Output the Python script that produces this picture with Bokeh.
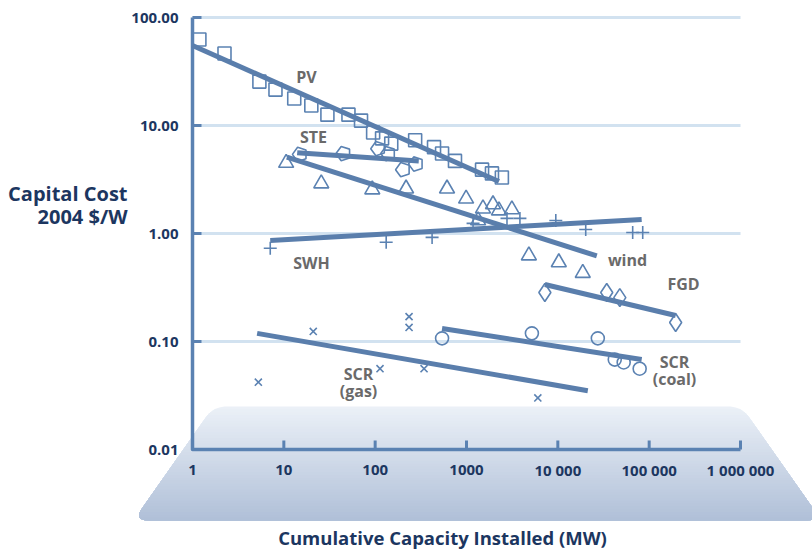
import math
from bokeh.plotting import figure
from bokeh.models import Range1d
from bokeh.core.properties import value
from bokeh.embed import file_html
from bokeh.resources import INLINE

# ---------------- data ----------------
PV_X = [1.19, 2.24, 5.4, 8.1, 13, 20, 30, 51, 70, 95, 119, 150, 274, 441, 540, 748, 1480, 1900, 2440]
PV_Y = [62.5, 46.4, 25.5, 21.5, 17.8, 15.3, 12.6, 12.6, 11.1, 8.6, 7.6, 6.8, 7.3, 6.3, 5.5, 4.7, 3.9, 3.6, 3.3]
PV_FIT_X = [1, 2265]
PV_FIT_Y = [55, 3.03]

STE_X = [15, 45, 108, 139, 202, 280]
STE_Y = [5.4, 5.5, 6.1, 5.5, 3.9, 4.4]
STE_FIT_X = [14, 300]
STE_FIT_Y = [5.6, 4.7]

WIND_X = [10.6, 25.7, 93, 218, 612, 990, 1515, 1950, 2265, 3140, 1340, 4820, 10250, 18750]
WIND_Y = [4.5, 2.9, 2.55, 2.6, 2.6, 2.1, 1.7, 1.86, 1.63, 1.67, 1.32, 0.625, 0.54, 0.43]
WIND_FIT_X = [10.8, 26700]
WIND_FIT_Y = [5.1, 0.62]

SWH_X = [7.1, 132, 420, 1180, 2775, 3845, 9500, 20200, 66000, 85000]
SWH_Y = [0.73, 0.83, 0.92, 1.24, 1.38, 1.38, 1.32, 1.09, 1.02, 1.02]
SWH_FIT_X = [7.1, 82800]
SWH_FIT_Y = [0.86, 1.35]

FGD_X = [7210, 34300, 47700, 195000]
FGD_Y = [0.284, 0.284, 0.255, 0.15]
FGD_FIT_X = [7210, 195000]
FGD_FIT_Y = [0.337, 0.174]

SCRC_X = [540, 5200, 27400, 42000, 52600, 78700]
SCRC_Y = [0.107, 0.119, 0.107, 0.068, 0.064, 0.056]
SCRC_FIT_X = [540, 82800]
SCRC_FIT_Y = [0.132, 0.068]

SCRG_X = [5.26, 21, 235, 235, 113, 343, 6040]
SCRG_Y = [0.042, 0.124, 0.170, 0.135, 0.056, 0.056, 0.030]
SCRG_FIT_X = [5.1, 21300]
SCRG_FIT_Y = [0.119, 0.035]

X_TICKS = [1, 10, 100, 1000, 10000, 100000, 1000000]
X_TICK_LABELS = ["1", "10", "100", "1000", "10 000", "100 000", "1 000 000"]
Y_TICKS = [0.01, 0.1, 1, 10, 100]
Y_TICK_LABELS = ["0.01", "0.10", "1.00", "10.00", "100.00"]
GRID_Y = [0.1, 1, 10, 100]

# ---------------- layout helpers (pixel <-> data on the log scales) ----------------
W, H = 812, 552
FL, FR, FB = 192, 740, 449          # position of x=1, x=1e6 and y=0.01 in px
XDEC = (FR - FL) / 6.0               # px per decade on x
YDEC = 108.0                         # px per decade on y


def px_to_x(px):
    return 10 ** ((px - FL) / XDEC)


def py_to_y(py):
    return 0.01 * 10 ** ((FB - py) / YDEC)


NAVY = "#1c3660"
BLUE = "#5b82b2"
LINE = "#5a7eac"
GREY = "#6a6a6a"
FONT = "Open Sans"

p = figure(width=W, height=H, x_axis_type="log", y_axis_type="log",
           x_range=Range1d(px_to_x(0), px_to_x(W)),
           y_range=Range1d(py_to_y(H), py_to_y(0)),
           x_axis_location=None, y_axis_location=None,
           min_border=0, toolbar_location=None, output_backend="svg")
p.outline_line_color = None
p.xgrid.visible = False
p.ygrid.visible = False
p.background_fill_color = "white"
p.border_fill_color = "white"


# ---------------- trapezoid background with vertical gradient ----------------
def rounded_poly(pts, radii, nseg=10):
    out = []
    n = len(pts)
    for i in range(n):
        p0, p1, p2 = pts[i - 1], pts[i], pts[(i + 1) % n]
        r = radii[i]
        v1 = (p0[0] - p1[0], p0[1] - p1[1])
        v2 = (p2[0] - p1[0], p2[1] - p1[1])
        l1, l2 = math.hypot(*v1), math.hypot(*v2)
        u1 = (v1[0] / l1, v1[1] / l1)
        u2 = (v2[0] / l2, v2[1] / l2)
        ang = math.acos(max(-1, min(1, u1[0] * u2[0] + u1[1] * u2[1])))
        d = r / math.tan(ang / 2) if r > 0 else 0
        a = (p1[0] + u1[0] * d, p1[1] + u1[1] * d)
        b = (p1[0] + u2[0] * d, p1[1] + u2[1] * d)
        for k in range(nseg + 1):
            t = k / nseg
            out.append(((1 - t) ** 2 * a[0] + 2 * (1 - t) * t * p1[0] + t ** 2 * b[0],
                        (1 - t) ** 2 * a[1] + 2 * (1 - t) * t * p1[1] + t ** 2 * b[1]))
    return out


def clip_below(poly, yc):
    out = []
    n = len(poly)
    for i in range(n):
        cur, prv = poly[i], poly[i - 1]
        cin, pin = cur[1] >= yc, prv[1] >= yc
        if cin != pin:
            t = (yc - prv[1]) / (cur[1] - prv[1])
            out.append((prv[0] + t * (cur[0] - prv[0]), yc))
        if cin:
            out.append(cur)
    return out


TOP, BOT = 406, 520
trap = rounded_poly([(213, TOP), (741, TOP), (821, BOT), (133, BOT)], [26, 26, 8, 8])
c_top = (235, 240, 247)
c_bot = (176, 192, 216)
NB = 40
for k in range(NB):
    yc = TOP + (BOT - TOP) * k / NB
    t = k / (NB - 1)
    col = "#%02x%02x%02x" % tuple(int(round(c_top[j] + (c_bot[j] - c_top[j]) * t)) for j in range(3))
    poly = clip_below(trap, yc) if k > 0 else trap
    if len(poly) < 3:
        continue
    p.patch([px_to_x(q[0]) for q in poly], [py_to_y(q[1]) for q in poly],
            fill_color=col, line_color=None)

# ---------------- grid lines ----------------
p.segment(x0=[X_TICKS[0]] * len(GRID_Y), x1=[X_TICKS[-1]] * len(GRID_Y),
          y0=GRID_Y, y1=GRID_Y, line_color="#d2e2f0", line_width=3)

# ---------------- axes (drawn through the log scales) ----------------
TICK = 9  # px
p.line([X_TICKS[0], X_TICKS[0], X_TICKS[-1]], [Y_TICKS[-1], Y_TICKS[0], Y_TICKS[0]],
       line_color=BLUE, line_width=3.5, line_join="round", line_cap="butt")
fx = 10 ** (TICK / XDEC)
fy = 10 ** (TICK / YDEC)
p.segment(x0=[X_TICKS[0]] * (len(Y_TICKS) - 1), x1=[X_TICKS[0] * fx] * (len(Y_TICKS) - 1),
          y0=Y_TICKS[1:], y1=Y_TICKS[1:], line_color=BLUE, line_width=3)
p.segment(x0=X_TICKS[1:], x1=X_TICKS[1:],
          y0=[Y_TICKS[0]] * (len(X_TICKS) - 1), y1=[Y_TICKS[0] * fy] * (len(X_TICKS) - 1),
          line_color=BLUE, line_width=3)

p.text(x=[px_to_x(178)] * len(Y_TICKS), y=Y_TICKS, text=Y_TICK_LABELS,
       text_align="right", text_baseline="middle", text_font=value(FONT),
       text_font_style="bold", text_font_size="15px", text_color=NAVY)
p.text(x=X_TICKS, y=[py_to_y(469)] * len(X_TICKS), text=X_TICK_LABELS,
       text_align="center", text_baseline="middle", text_font=value(FONT),
       text_font_style="bold", text_font_size="15px", text_color=NAVY)

# ---------------- markers ----------------
MK = dict(fill_color=None, line_color=BLUE, line_width=1.6)
p.scatter(PV_X, PV_Y, marker="square", size=13, **MK)
try:
    p.ngon(x=STE_X, y=STE_Y, radius=7.5, radius_units="screen", n=5,
           angle=math.pi / 2, **MK)
except Exception:
    p.scatter(STE_X, STE_Y, marker="hex", size=13, **MK)
p.scatter(WIND_X, WIND_Y, marker="triangle", size=15, **MK)
p.scatter(SWH_X, SWH_Y, marker="cross", size=13, **MK)
p.scatter(FGD_X, FGD_Y, marker="diamond", size=18, **MK)
p.scatter(SCRC_X, SCRC_Y, marker="circle", size=13, **MK)
p.scatter(SCRG_X, SCRG_Y, marker="x", size=10, **MK)

# ---------------- fit lines ----------------
for fxs, fys in ((PV_FIT_X, PV_FIT_Y), (STE_FIT_X, STE_FIT_Y), (WIND_FIT_X, WIND_FIT_Y),
                 (SWH_FIT_X, SWH_FIT_Y), (FGD_FIT_X, FGD_FIT_Y), (SCRC_FIT_X, SCRC_FIT_Y),
                 (SCRG_FIT_X, SCRG_FIT_Y)):
    p.line(fxs, fys, line_color=LINE, line_width=5)


# ---------------- texts ----------------
def add_text(px, py, text, size, color, align="center"):
    p.text(x=[px_to_x(px)], y=[py_to_y(py)], text=[text], text_align=align,
           text_baseline="middle", text_font=value(FONT), text_font_style="bold",
           text_font_size=size, text_color=color)


SERIES_LABELS = [("PV", 306, 76), ("STE", 313, 136), ("SWH", 311, 262), ("wind", 627, 259),
                 ("FGD", 683, 283), ("SCR", 358, 373), ("(gas)", 358, 390),
                 ("SCR", 674, 361), ("(coal)", 674, 378)]
for txt, x, y in SERIES_LABELS:
    add_text(x, y, txt, "16px", GREY)

add_text(127, 193, "Capital Cost", "20px", NAVY, align="right")
add_text(127, 216, "2004 $/W", "20px", NAVY, align="right")
add_text(442, 537, "Cumulative Capacity Installed (MW)", "18.5px", NAVY)

open("out.html", "w").write(file_html(p, INLINE))
